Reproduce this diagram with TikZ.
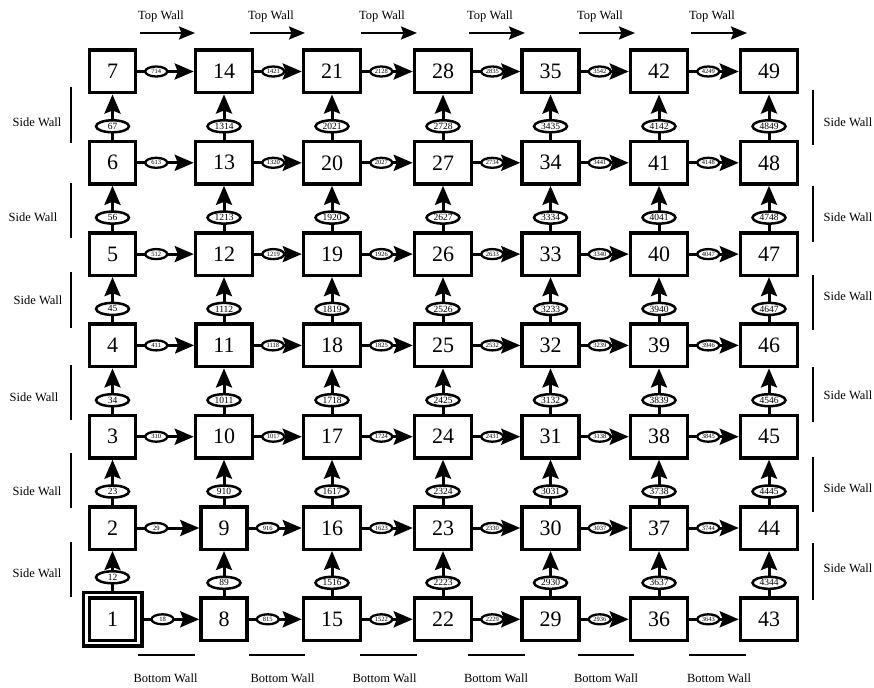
\documentclass[tikz,border=0pt]{standalone}
\usepackage{fontspec}
\setmainfont{Liberation Serif}
\usetikzlibrary{arrows.meta,shapes.geometric,calc}
\begin{document}
\begin{tikzpicture}[x=1pt,y=-1pt,
 box/.style={draw, line width=3.5pt, minimum height=42.5pt, inner xsep=17.5pt, inner ysep=0pt, font=\fontsize{22}{24}\selectfont},
 outerbox/.style={draw, line width=3.5pt, minimum width=58.5pt, minimum height=53.5pt, inner sep=0pt},
 conn/.style={line width=3pt, -{Stealth[length=19pt,width=16pt,inset=3pt]}},
 hlab/.style={draw, ellipse, fill=white, line width=2.3pt, inner sep=0pt, minimum width=22pt, minimum height=10pt, font=\fontsize{6.5}{7}\selectfont},
 vlab/.style={draw, ellipse, fill=white, line width=2.5pt, inner sep=0pt, minimum width=33pt, minimum height=12pt, font=\fontsize{9.5}{10}\selectfont},
 wall/.style={line width=2.5pt},
 wallarrow/.style={line width=2.2pt, -{Stealth[length=16pt,width=13pt,inset=2.5pt]}},
 walltxt/.style={font=\fontsize{12.5}{14}\selectfont, inner sep=0pt},
]
\useasboundingbox (0,0) rectangle (874,687);

% boxes
\foreach \c/\x in {1/112.5,2/224,3/332,4/443,5/550.5,6/659,7/769}{
  \foreach \r in {1,...,7}{
    \pgfmathtruncatemacro\n{7*(\c-1)+\r}
    \node[box] (n\n) at (\x,{619.3-(\r-1)*91.3}) {\n};
  }
}
\node[outerbox] (n1o) at (n1) {};

% horizontal connectors
\foreach \c in {1,...,6}{
  \foreach \r in {1,...,7}{
    \pgfmathtruncatemacro\n{7*(\c-1)+\r}
    \pgfmathtruncatemacro\m{\n+7}
    \ifnum\n=1 \def\src{n1o}\else\edef\src{n\n}\fi
    \draw[conn] (\src.east) -- (n\m.west);
    \node[hlab] (h\n) at ([xshift=19pt]\src.east) {\n\m};
  }
}
% vertical connectors
\foreach \c in {1,...,7}{
  \foreach \r in {1,...,6}{
    \pgfmathtruncatemacro\n{7*(\c-1)+\r}
    \pgfmathtruncatemacro\m{\n+1}
    \ifnum\n=1 \def\src{n1o}\else\edef\src{n\n}\fi
    \draw[conn] (\src.north) -- (n\m.south);
    \node[vlab] (v\n) at ([yshift=13.5pt]\src.north) {\n\m};
  }
}

% top walls
\foreach \s/\e [count=\i] in {140/195,250/305,361/417,469/525,579/635,691/747}{
  \coordinate (ta\i) at (\s,33);
  \coordinate (tb\i) at (\e,33);
  \draw[wallarrow] (ta\i) -- (tb\i);
  \node[walltxt, anchor=base west] (tt\i) at (\s-2,19.5) {Top Wall};
}
% bottom walls
\foreach \s/\e/\t [count=\i] in {138/195/165.5,249/305/282.5,360/417/384.5,468/525/496,578/634/606,689/746/719}{
  \coordinate (ba\i) at (\s,655);
  \coordinate (bb\i) at (\e,655);
  \draw[wall] (ba\i) -- (bb\i);
  \node[walltxt, anchor=base] (bt\i) at (\t,682) {Bottom Wall};
}
% left side walls
\foreach \s/\e/\tx/\ty [count=\i] in {87/143/37/122,183/238/33/217,272/328/38/300,365/420/34/397,453/508/37/491,542/597/37/573}{
  \coordinate (la\i) at (71,\s);
  \coordinate (lb\i) at (71,\e);
  \draw[wall] (la\i) -- (lb\i);
  \node[walltxt, anchor=base] (lt\i) at (\tx,\ty+4.1) {Side Wall};
}
% right side walls
\foreach \s/\e/\ty [count=\i] in {90/145/122,186/242/217,275/330/296,367/422/395,457/512/488,543/600/568}{
  \coordinate (ra\i) at (813,\s);
  \coordinate (rb\i) at (813,\e);
  \draw[wall] (ra\i) -- (rb\i);
  \node[walltxt, anchor=base] (rt\i) at (848,\ty+4.1) {Side Wall};
}
\end{tikzpicture}
\end{document}
